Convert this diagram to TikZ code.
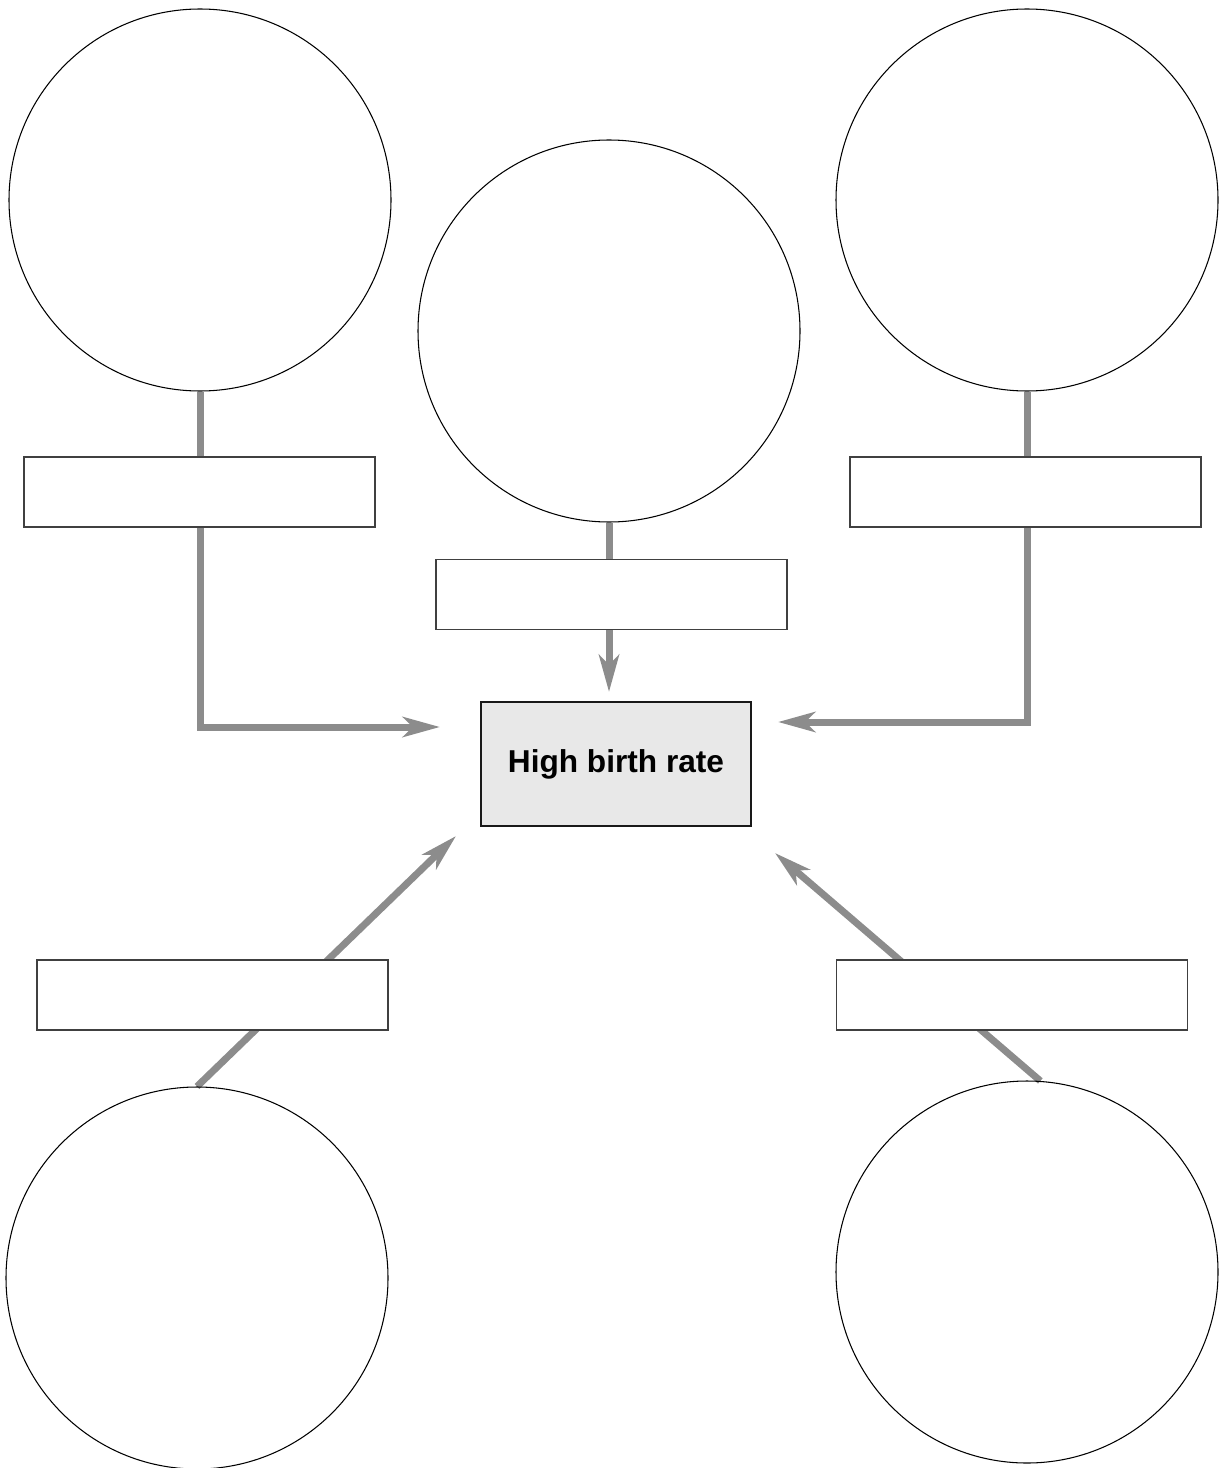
\documentclass[tikz,border=0pt]{standalone}
\usepackage{fontspec}
\setmainfont{Liberation Sans}
\usetikzlibrary{arrows.meta,backgrounds}

\begin{document}
\begin{tikzpicture}[
  bubble/.style={circle,draw,line width=0.6pt,minimum size=7.64cm,inner sep=0pt},
  slot/.style={rectangle,draw=black!75,fill=white,line width=0.6pt,minimum width=7.02cm,minimum height=1.4cm,inner sep=0pt},
  effect/.style={rectangle,draw=black!90,fill=black!9,line width=1.5pt,minimum width=5.4cm,minimum height=2.48cm,font=\bfseries\fontsize{18}{22}\selectfont},
  link/.style={draw=black!45,line width=0.14cm,-{Stealth[length=7.4mm,width=4mm,inset=2mm]}},
  bar/.style={draw=black!45,line width=0.14cm}]
\useasboundingbox (0,0) rectangle (24.38,-29.36);
\node[effect] (rate) at (12.32,-15.28) {High birth rate};
\node[bubble] (c1) at (4.0,-4.0) {};
\node[bubble] (c2) at (12.18,-6.62) {};
\node[bubble] (c3) at (20.54,-4.0) {};
\node[bubble] (c4) at (3.94,-25.56) {};
\node[bubble] (c5) at (20.54,-25.44) {};
\node[slot] (r1) at (3.99,-9.84) {};
\node[slot] (r2) at (12.23,-11.89) {};
\node[slot] (r3) at (20.51,-9.84) {};
\node[slot] (r4) at (4.25,-19.9) {};
\node[slot] (r5) at (20.24,-19.9) {};
\coordinate (inL) at (8.8,-14.54);
\coordinate (inT) at (12.18,-13.84);
\coordinate (inR) at (15.56,-14.44);
\coordinate (inBL) at (9.12,-16.72);
\coordinate (inBR) at (15.5,-17.06);
\begin{scope}[on background layer]
\draw[link] (c1.south) |- (inL);
\draw[link] (c2.south) -- (inT);
\draw[link] (c3.south) |- (inR);
\draw[link] (c4.north) -- (inBL);
\draw[link] (c5.86) -- (inBR);
\end{scope}
\end{tikzpicture}
\end{document}
